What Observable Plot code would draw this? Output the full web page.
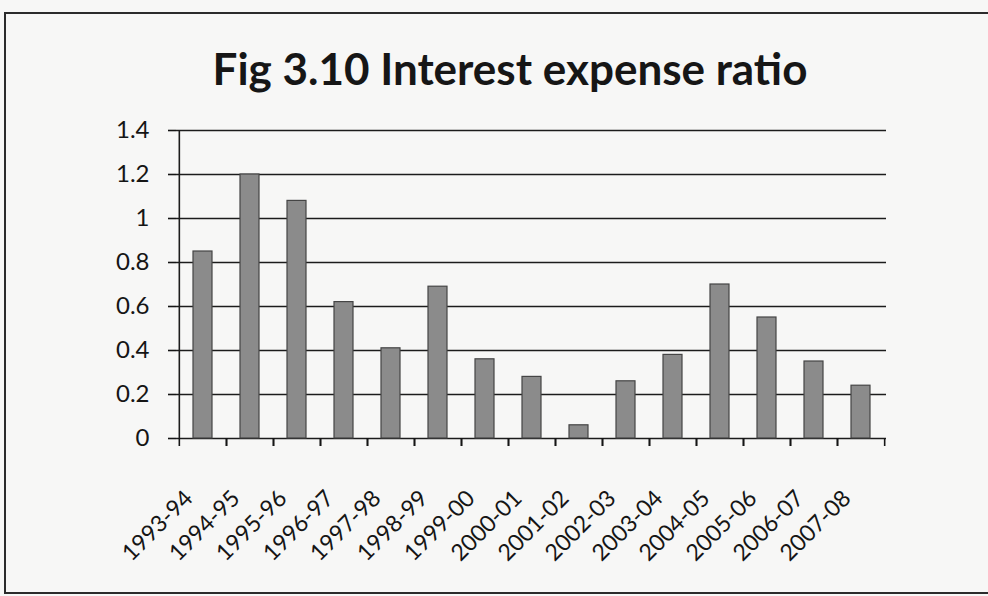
<!DOCTYPE html>
<html>
<head>
<meta charset="utf-8">
<script src="https://cdn.jsdelivr.net/npm/d3@7"></script>
<script src="https://cdn.jsdelivr.net/npm/@observablehq/plot@0.6"></script>
<style>
  html, body { margin: 0; padding: 0; background: #f7f7f6; }
  #wrap { position: relative; width: 988px; height: 596px; overflow: hidden; background: #f7f7f6; }
  #frame { position: absolute; left: 4px; top: 12px; width: 990px; height: 582px;
           border-top: 2px solid #2b2b2b; border-left: 2px solid #2b2b2b; border-bottom: 2px solid #2b2b2b; box-sizing: border-box; }
  #title { position: absolute; left: 0; top: 46px; width: 1020px; text-align: center;
           font-family: Lato, sans-serif; font-weight: 700; font-size: 44px; line-height: 1; color: #161616; }
  #chart { position: absolute; left: 0; top: 0; }
</style>
</head>
<body>
<div id="wrap">
  <div id="frame"></div>
  <div id="title">Fig 3.10 Interest expense ratio</div>
  <div id="chart"></div>
</div>
<script>
const years = ["1993-94","1994-95","1995-96","1996-97","1997-98","1998-99","1999-00","2000-01","2001-02","2002-03","2003-04","2004-05","2005-06","2006-07","2007-08"];
const ratios = [0.85, 1.2, 1.08, 0.62, 0.41, 0.69, 0.36, 0.28, 0.06, 0.26, 0.38, 0.70, 0.55, 0.35, 0.24];
const yTicks = [0, 0.2, 0.4, 0.6, 0.8, 1, 1.2, 1.4];

const data = years.map((y, i) => ({year: y, value: ratios[i]}));

const W = 988, H = 596, ML = 176, MR = 102, MT = 130, MB = 158;
const bw = (W - ML - MR) / years.length;
const fmt = d => String(+d.toFixed(1));

const chart = Plot.plot({
  width: W, height: H,
  marginLeft: ML, marginRight: MR, marginTop: MT, marginBottom: MB,
  style: {background: "transparent", fontFamily: "Lato, sans-serif", fontSize: "24px", color: "#151515"},
  x: {domain: years, padding: 0, label: null},
  y: {domain: [0, 1.4], label: null},
  marks: [
    Plot.ruleY(yTicks, {stroke: "#1c1c1c", strokeWidth: 1.6}),
    Plot.ruleX([years[0]], {dx: -bw / 2, y1: 0, y2: 1.4, stroke: "#1c1c1c", strokeWidth: 1.6}),
    Plot.barY(data, {x: "year", y: "value", fill: "#8b8b8b", stroke: "#454545", strokeWidth: 1.2, insetLeft: 14, insetRight: 14}),
    Plot.axisY({ticks: yTicks, tickSize: 8, tickPadding: 19, tickFormat: fmt, fontSize: 24, strokeWidth: 1.6}),
    Plot.axisX({tickSize: 8, tickFormat: () => "", dx: -bw / 2, strokeWidth: 1.6}),
    Plot.axisX({tickSize: 8, tickFormat: () => "", dx: bw / 2, strokeWidth: 1.6}),
    Plot.axisX({tickSize: 0, tickRotate: -45, tickPadding: 56, dx: -14, fontSize: 23})
  ]
});
document.getElementById("chart").appendChild(chart);
</script>
</body>
</html>
